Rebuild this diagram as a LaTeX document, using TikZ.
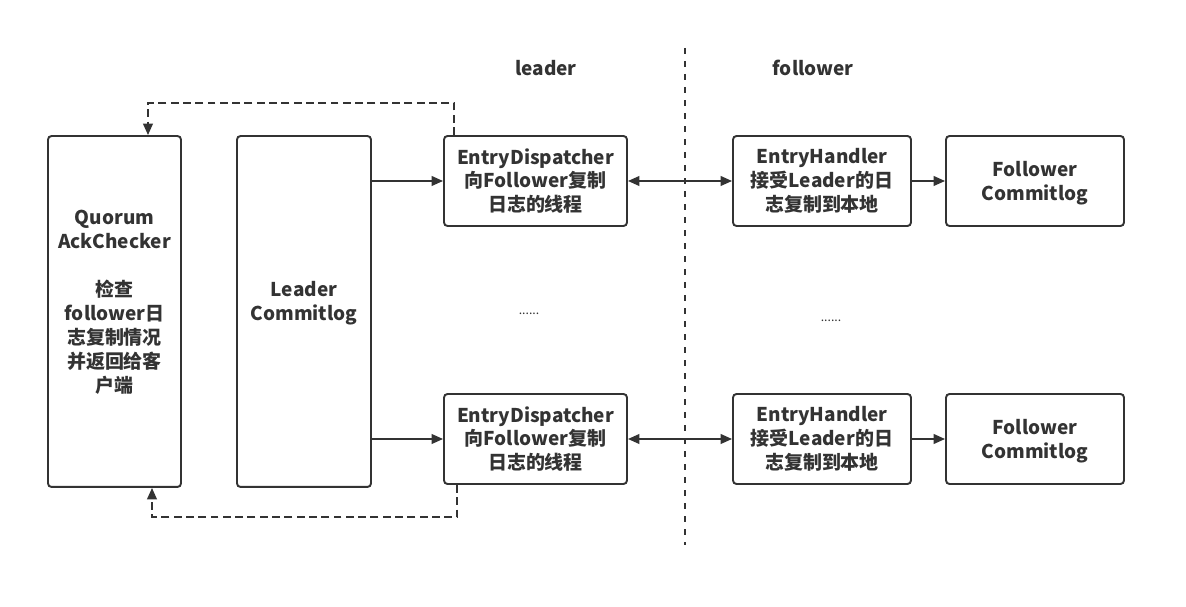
\documentclass[tikz,border=0pt]{standalone}
\usepackage{fontspec}
\setmainfont{Noto Sans CJK SC}
\usepackage{xcolor}
\usetikzlibrary{arrows.meta}
\definecolor{ink}{HTML}{333333}

\begin{document}
\begin{tikzpicture}[x=0.02cm,y=-0.02cm,
	box/.style={draw=ink,line width=1.1pt,rounded corners=2pt,align=center,
		font=\bfseries\fontsize{10.8}{13.6}\selectfont,text=ink,inner sep=0pt},
	link/.style={draw=ink,line width=1.1pt,-{Triangle[length=6.5pt,width=5.5pt]}},
	feedback/.style={link,dash pattern=on 4.5pt off 2.5pt},
	caption/.style={font=\bfseries\fontsize{10.8}{13.6}\selectfont,text=ink}]
	\useasboundingbox (0,0) rectangle (1186,607);

	\node[box,minimum width=2.66cm,minimum height=7.02cm] (qc) at (114.5,311.5)
		{Quorum\\AckChecker\\[13.6pt]检查\\follower日\\志复制情况\\并返回给客\\户端\\[-2pt]\mbox{}};
	\node[box,minimum width=2.68cm,minimum height=7.02cm] (lc) at (304,311.5)
		{Leader\\Commitlog\\[-2pt]\mbox{}};

	\node[box,minimum width=3.66cm,minimum height=1.8cm] (ed1) at (535.5,181)
		{EntryDispatcher\\向Follower复制\\日志的线程};
	\node[box,minimum width=3.66cm,minimum height=1.8cm] (ed2) at (535.5,439)
		{EntryDispatcher\\向Follower复制\\日志的线程};
	\node[box,minimum width=3.56cm,minimum height=1.8cm] (eh1) at (822,181)
		{EntryHandler\\接受Leader的日\\志复制到本地};
	\node[box,minimum width=3.56cm,minimum height=1.8cm] (eh2) at (822,439)
		{EntryHandler\\接受Leader的日\\志复制到本地};
	\node[box,minimum width=3.56cm,minimum height=1.8cm] (fc1) at (1035,181)
		{Follower\\Commitlog\\[-14pt]\mbox{}};
	\node[box,minimum width=3.56cm,minimum height=1.8cm] (fc2) at (1035,439)
		{Follower\\Commitlog\\[-14pt]\mbox{}};

	\node[caption] (leader) at (546,68) {leader};
	\node[caption] (follower) at (813,68) {follower};
	\node[text=ink,font=\fontsize{7}{8}\selectfont] (dots1) at (529,314) {......};
	\node[text=ink,font=\fontsize{7}{8}\selectfont] (dots2) at (831,321) {......};

	% leader / follower split
	\draw[ink,line width=1.1pt,dash pattern=on 3.6pt off 3.8pt] (685,48) -- (685,545);

	\draw[link] (lc.east |- ed1.west) -- (ed1.west);
	\draw[link] (lc.east |- ed2.west) -- (ed2.west);
	\draw[link,{Triangle[length=6.5pt,width=5.5pt]}-{Triangle[length=6.5pt,width=5.5pt]}] (ed1.east) -- (eh1.west);
	\draw[link,{Triangle[length=6.5pt,width=5.5pt]}-{Triangle[length=6.5pt,width=5.5pt]}] (ed2.east) -- (eh2.west);
	\draw[link] (eh1.east) -- (fc1.west);
	\draw[link] (eh2.east) -- (fc2.west);

	\draw[feedback] ([xshift=0.22cm]ed1.north west) -- ++(0,-32) -| ([xshift=0.67cm]qc.north);
	\draw[feedback] ([xshift=0.28cm]ed2.south west) -- ++(0,32) -| ([xshift=0.75cm]qc.south);
\end{tikzpicture}
\end{document}
